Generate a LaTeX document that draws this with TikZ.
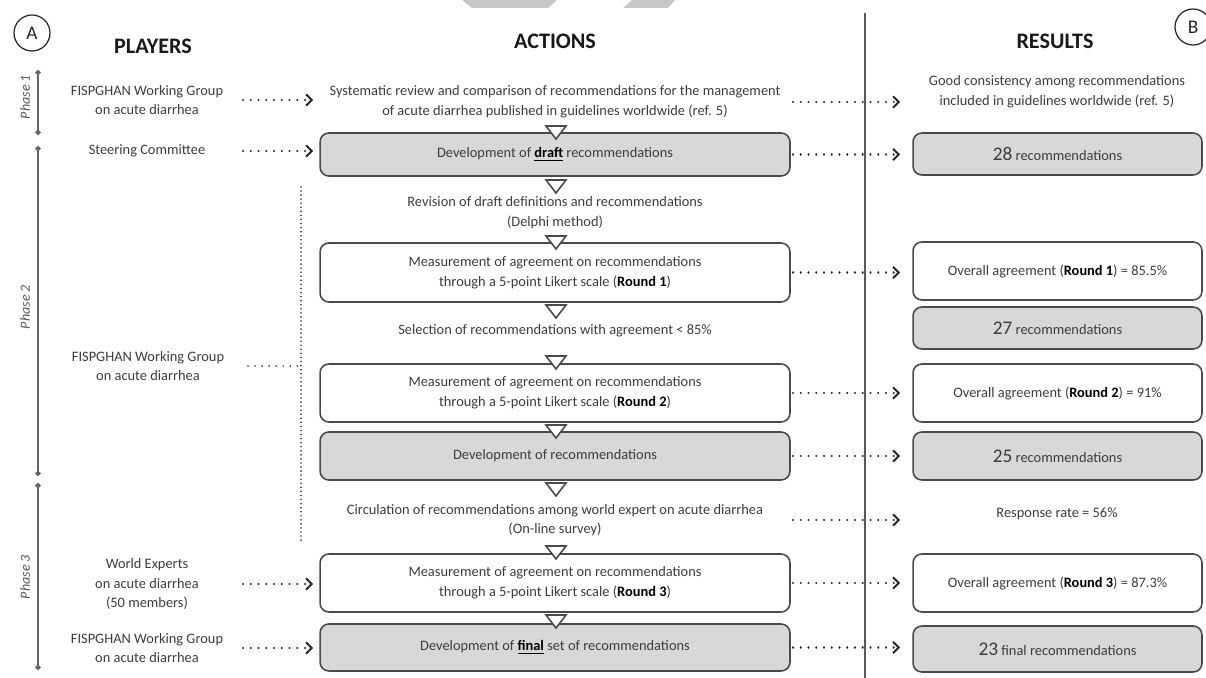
\documentclass[tikz,border=0pt]{standalone}
\usepackage{fontspec}
\setmainfont{Carlito}
\usepackage{xcolor}
\usetikzlibrary{arrows.meta}

\definecolor{txt}{HTML}{3C3C3C}
\definecolor{edge}{HTML}{4A4A4A}
\definecolor{boxgrey}{HTML}{D8D8D8}

\newcommand{\rnd}[1]{{\color{black}\textbf{#1}}}
\newcommand{\bignum}[1]{{\fontsize{11}{11}\selectfont #1}}

\begin{document}
\begin{tikzpicture}
  [x=0.02cm,y=-0.02cm,
   every node/.style={font=\fontsize{8.2}{11.2}\selectfont,text=txt,align=center},
   head/.style={font=\fontsize{12.6}{14}\selectfont\bfseries,text=black!90},
   letter/.style={circle,draw=black!85,line width=0.7pt,minimum size=0.72cm,inner sep=0pt,
     font=\fontsize{11}{13}\selectfont,text=black!85},
   actbox/.style={draw=edge,line width=0.9pt,rounded corners=5pt,minimum width=9.4cm},
   resbox/.style={draw=edge,line width=0.9pt,rounded corners=5pt,minimum width=5.78cm},
   grey/.style={fill=boxgrey},
   dotarrow/.style={line width=1.2pt,line cap=round,dash pattern=on 0.01pt off 4.4pt,
     -{Straight Barb[length=3.2pt,width=6.5pt,line width=1.1pt]},draw=black!85},
   dotline/.style={line width=1pt,line cap=round,dash pattern=on 0.01pt off #1,draw=black!75},
   phase/.style={draw=black!60,line width=0.8pt,{Circle[length=3pt]}-{Circle[length=3pt]}},
   phaselbl/.style={rotate=90,font=\fontsize{8}{10}\selectfont\itshape,text=black!65},
   tri/.style={draw=edge,fill=white,line width=0.9pt,line join=miter}]

  \useasboundingbox (0,0) rectangle (1206,678);

  \fill[black!22] (462,0) -- (557,0) -- (548,8) -- (472,8) -- cycle;
  \fill[black!22] (632,0) -- (675,0) -- (668,8) -- (623,8) -- cycle;

  \node[letter] (lA) at (32,33) {A};
  \node[letter] (lB) at (1193,27) {B};

  \node[head] (hp) at (153,46) {PLAYERS};
  \node[head] (ha) at (555,41) {ACTIONS};
  \node[head] (hr) at (1055,41) {RESULTS};

  \draw[black!65,line width=0.8pt] (865,13) -- (865,678);

  % phases
  \foreach \s/\e/\m/\n in {70/135/97/1,146/476/307/2,483/670/577/3}{
    \draw[phase] (38,\s) -- (38,\e);
    \node[phaselbl] (ph\n) at (25,\m) {Phase \n};
  }

  % players
  \node (p1) at (147,100) {FISPGHAN Working Group\\on acute diarrhea};
  \node (p2) at (147,151) {Steering Committee};
  \node (p3) at (148,366) {FISPGHAN Working Group\\on acute diarrhea};
  \node (p4) at (147,584) {World Experts\\on acute diarrhea\\(50 members)};
  \node (p5) at (147,648) {FISPGHAN Working Group\\on acute diarrhea};

  % actions
  \node (a1) at (555,102) {Systematic review and comparison of recommendations for the management\\of acute diarrhea published in guidelines worldwide (ref. 5)};
  \node[actbox,grey,minimum height=0.86cm] (a2) at (555,154.5)
    {Development of \rnd{\underline{draft}} recommendations};
  \node (a3) at (555,212.5) {Revision of draft definitions and recommendations\\(Delphi method)};
  \node[actbox,minimum height=1.18cm] (a4) at (555,272.5)
    {Measurement of agreement on recommendations\\through a 5-point Likert scale (\rnd{Round 1})};
  \node (a5) at (555,331) {Selection of recommendations with agreement < 85\%};
  \node[actbox,minimum height=1.16cm] (a6) at (555,393)
    {Measurement of agreement on recommendations\\through a 5-point Likert scale (\rnd{Round 2})};
  \node[actbox,grey,minimum height=0.96cm] (a7) at (555,456) {Development of recommendations};
  \node (a8) at (555,520) {Circulation of recommendations among world expert on acute diarrhea\\(On-line survey)};
  \node[actbox,minimum height=1.16cm] (a9) at (555,583)
    {Measurement of agreement on recommendations\\through a 5-point Likert scale (\rnd{Round 3})};
  \node[actbox,grey,minimum height=0.94cm] (a10) at (555,647.5)
    {Development of \rnd{\underline{final}} set of recommendations};

  % results
  \node (r1) at (1057,92) {Good consistency among recommendations\\included in guidelines worldwide (ref. 5)};
  \node[resbox,grey,minimum height=0.84cm] (r2) at (1057.5,154) {\bignum{28} recommendations};
  \node[resbox,minimum height=1.16cm] (r3) at (1057.5,271) {Overall agreement (\rnd{Round 1}) = 85.5\%};
  \node[resbox,grey,minimum height=0.84cm] (r4) at (1057.5,328) {\bignum{27} recommendations};
  \node[resbox,minimum height=1.16cm] (r5) at (1057.5,393) {Overall agreement (\rnd{Round 2}) = 91\%};
  \node[resbox,grey,minimum height=0.96cm] (r6) at (1057.5,456) {\bignum{25} recommendations};
  \node (r7) at (1057,514) {Response rate = 56\%};
  \node[resbox,minimum height=1.16cm] (r8) at (1057.5,583) {Overall agreement (\rnd{Round 3}) = 87.3\%};
  \node[resbox,grey,minimum height=0.92cm] (r9) at (1057.5,649) {\bignum{23} final recommendations};

  % flow marks
  \foreach \y in {126,180,236,305,356,425,483,546,615}
    \draw[tri] (546,\y) -- (566,\y) -- (556,\y+13) -- cycle;

  \coordinate (cl) at (243,0);
  \coordinate (cr) at (313,0);
  \coordinate (rl) at (793,0);
  \coordinate (rr) at (900,0);
  \coordinate (bt) at (301,187);
  \coordinate (bb) at (301,542);
  \coordinate (hl) at (248,0);

  \foreach \p in {p1,p2,p4,p5}
    \draw[dotarrow] (cl |- \p) -- (cr |- \p);
  \foreach \a in {a1,a2,a4,a6,a7,a8,a9,a10}
    \draw[dotarrow] (rl |- \a) -- (rr |- \a);

  \draw[dotline=2.3pt] (bt) -- (bb);
  \draw[dotline=4pt] (hl |- p3) -- (bt |- p3);
\end{tikzpicture}
\end{document}
